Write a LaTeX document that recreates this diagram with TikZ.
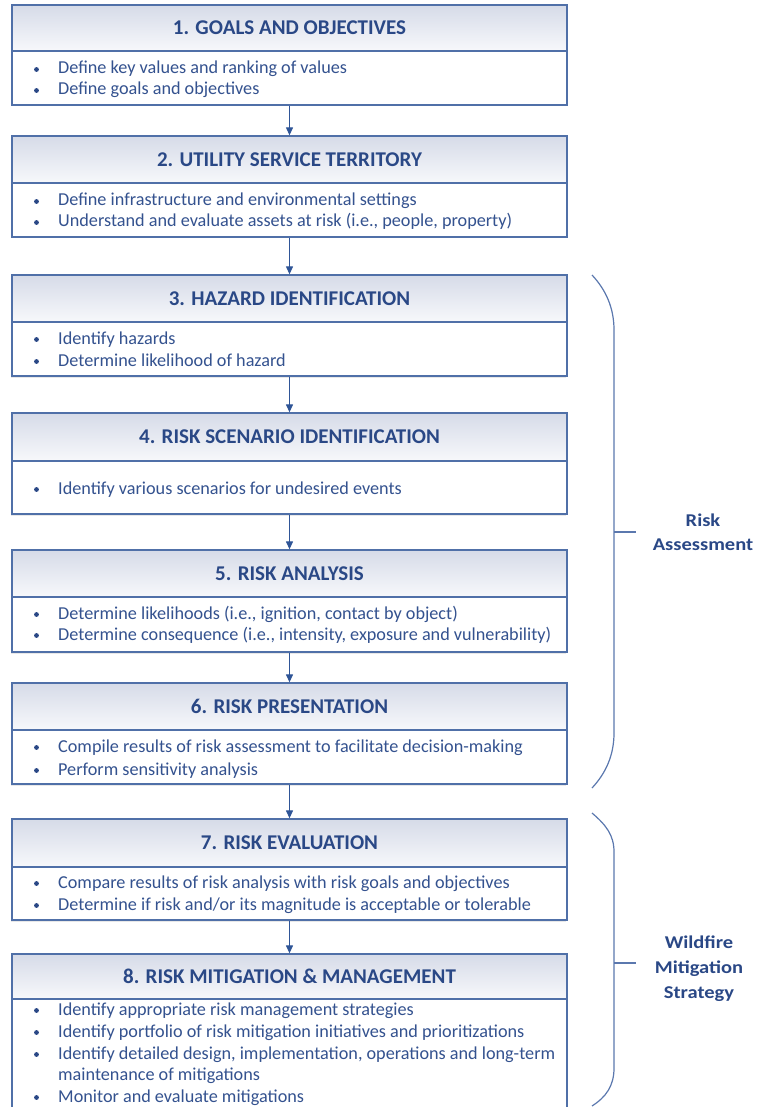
\documentclass[tikz,border=0pt]{standalone}
\usepackage{fontspec}
\setmainfont{Carlito}
\usetikzlibrary{arrows.meta,shadows}
\definecolor{bordc}{HTML}{5070A8}
\definecolor{hdrtop}{HTML}{D6DBE8}
\definecolor{hdrbot}{HTML}{F7F8FB}
\definecolor{hdtxt}{HTML}{2A4886}
\definecolor{bdtxt}{HTML}{34528F}
\definecolor{arrc}{HTML}{2F5597}
\definecolor{bracec}{HTML}{5B78AE}
\newcommand{\mkbox}[5]{%
  \node[hdrbox, minimum height={#3-#2}] (h#1) at (289.5,{(#2+#3)/2}) {#5};
  \node[bodybox, minimum height={#4-#3}] (b#1) at (289.5,{(#3+#4)/2}) {};
}
\newcommand{\bl}[3]{%
  \node[bulnode] (#1d) at (36.5,{#2-4.5}) {};
  \node[bultxt] (#1) at (58,#2) {#3};
}
\newcommand{\cl}[3]{%
  \node[bultxt] (#1) at (58,#2) {#3};
}
\newcommand{\sidetxt}[1]{\scalebox{1.14}[1]{#1}}
\begin{document}
\begin{tikzpicture}[x=1pt,y=-1pt,
  hdrbox/.style={draw=bordc, line width=1.3pt, top color=hdrtop, bottom color=hdrbot,
    minimum width=555pt, inner sep=0pt, font=\fontsize{21}{25}\selectfont\bfseries, text=hdtxt,
    text height=13.5pt, text depth=0pt,
    drop shadow={shadow xshift=-1.5pt, shadow yshift=-1.5pt, opacity=0.18}},
  bodybox/.style={draw=bordc, line width=1.3pt, fill=white, minimum width=555pt, inner sep=0pt,
    drop shadow={shadow xshift=-1.5pt, shadow yshift=-1.5pt, opacity=0.18}},
  bulnode/.style={circle, fill=hdtxt, inner sep=0pt, minimum size=4.8pt},
  bultxt/.style={anchor=base west, inner sep=0pt, font=\fontsize{18.2}{22}\selectfont, text=bdtxt},
  side/.style={anchor=base, inner sep=0pt, font=\fontsize{18}{22}\selectfont\bfseries, text=hdtxt},
  arr/.style={draw=arrc, line width=1.2pt, -{Triangle[length=8pt,width=7pt]}},
  brace/.style={draw=bracec, line width=1.2pt}
]
\useasboundingbox (0,0) rectangle (756,1107);
\clip (0,0) rectangle (756,1107);

\mkbox{1}{5}{51}{105}{1. GOALS AND OBJECTIVES}
\mkbox{2}{136}{183}{237}{2. UTILITY SERVICE TERRITORY}
\mkbox{3}{275}{322}{376}{3. HAZARD IDENTIFICATION}
\mkbox{4}{413}{461}{514}{4. RISK SCENARIO IDENTIFICATION}
\mkbox{5}{550}{597}{652}{5. RISK ANALYSIS}
\mkbox{6}{683}{730}{784}{6. RISK PRESENTATION}
\mkbox{7}{819}{867}{920}{7. RISK EVALUATION}
\mkbox{8}{954}{999}{1125}{8. RISK MITIGATION \& MANAGEMENT}

\bl{t1a}{74}{Define key values and ranking of values}
\bl{t1b}{95}{Define goals and objectives}
\bl{t2a}{206}{Define infrastructure and environmental settings}
\bl{t2b}{227}{Understand and evaluate assets at risk (i.e., people, property)}
\bl{t3a}{344}{Identify hazards}
\bl{t3b}{366}{Determine likelihood of hazard}
\bl{t4a}{494}{Identify various scenarios for undesired events}
\bl{t5a}{619}{Determine likelihoods (i.e., ignition, contact by object)}
\bl{t5b}{640}{Determine consequence (i.e., intensity, exposure and vulnerability)}
\bl{t6a}{752}{Compile results of risk assessment to facilitate decision-making}
\bl{t6b}{775}{Perform sensitivity analysis}
\bl{t7a}{888}{Compare results of risk analysis with risk goals and objectives}
\bl{t7b}{910}{Determine if risk and/or its magnitude is acceptable or tolerable}
\bl{t8a}{1015}{Identify appropriate risk management strategies}
\bl{t8b}{1037}{Identify portfolio of risk mitigation initiatives and prioritizations}
\bl{t8c}{1059}{Identify detailed design, implementation, operations and long-term}
\cl{t8d}{1080}{maintenance of mitigations}
\bl{t8e}{1102}{Monitor and evaluate mitigations}

\foreach \i/\j in {1/2,2/3,3/4,4/5,5/6,6/7,7/8}
  \draw[arr] (b\i.south) -- (h\j.north);

% braces
\coordinate (ra1) at (592,275);
\coordinate (ra2) at (592,788);
\coordinate (rat) at (614,532);
\coordinate (rae) at (636,532);
\draw[brace] (ra1) .. controls (606,290) and (614,308) .. (614,330) -- (614,733)
  .. controls (614,755) and (606,773) .. (ra2);
\draw[brace] (rat) -- (rae);
\coordinate (wm1) at (592,813);
\coordinate (wm2) at (592,1106);
\coordinate (wmt) at (614,963);
\coordinate (wme) at (636,963);
\draw[brace] (wm1) .. controls (606,825) and (614,835) .. (614,852) -- (614,1068)
  .. controls (614,1086) and (606,1097) .. (wm2);
\draw[brace] (wmt) -- (wme);

\node[side] (ra) at (703,526) {\sidetxt{Risk}};
\node[side] (rb) at (703,550) {\sidetxt{Assessment}};
\node[side] (wa) at (699,948) {\sidetxt{Wildfire}};
\node[side] (wb) at (699,973) {\sidetxt{Mitigation}};
\node[side] (wc) at (699,998) {\sidetxt{Strategy}};
\end{tikzpicture}
\end{document}
